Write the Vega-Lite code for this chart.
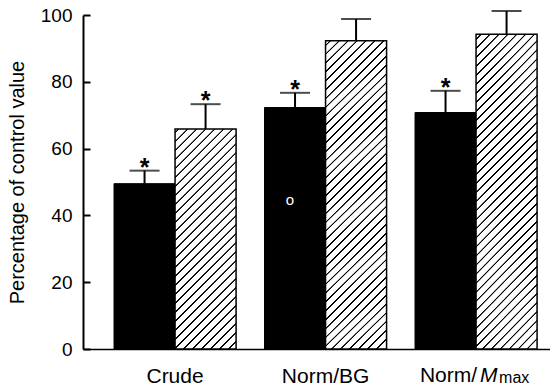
{
  "$schema": "https://vega.github.io/schema/vega-lite/v6.json",
  "width": 467,
  "height": 334,
  "autosize": {"type": "none"},
  "padding": {"left": 83, "top": 15, "right": 0, "bottom": 36},
  "config": {
    "view": {"stroke": null},
    "font": "Liberation Sans",
    "axis": {"grid": false, "domainColor": "black", "tickColor": "black", "labelColor": "black", "titleColor": "black"},
    "axisY": {"labelFontSize": 19, "labelPadding": 18, "tickSize": -7, "tickWidth": 2, "domainWidth": 2, "titleFontSize": 20, "titleFontWeight": "normal"}
  },
  "data": {
    "values": [
      {"group": "Crude", "kind": "black", "value": 49.5, "upper": 53.4, "star": true, "note": ""},
      {"group": "Crude", "kind": "hatched", "value": 65.9, "upper": 73.3, "star": true, "note": ""},
      {"group": "Norm/BG", "kind": "black", "value": 72.3, "upper": 76.7, "star": true, "note": "o"},
      {"group": "Norm/BG", "kind": "hatched", "value": 92.3, "upper": 98.8, "star": false, "note": ""},
      {"group": "Norm/Mmax", "kind": "black", "value": 70.8, "upper": 77.3, "star": true, "note": ""},
      {"group": "Norm/Mmax", "kind": "hatched", "value": 94.2, "upper": 101.2, "star": false, "note": ""}
    ]
  },
  "encoding": {
    "x": {
      "field": "group", "type": "nominal", "sort": ["Crude", "Norm/BG", "Norm/Mmax"],
      "scale": {"paddingInner": 0.189, "paddingOuter": 0.146, "align": 0.706},
      "axis": {
        "title": null, "ticks": false, "labelAngle": 0, "labelFontSize": 21, "labelPadding": 33,
        "labelBaseline": "alphabetic", "domainWidth": 1.5,
        "labelExpr": "datum.value == 'Norm/Mmax' ? '' : datum.value"
      }
    }
  },
  "layer": [
    {
      "mark": {"type": "rule", "color": "black", "strokeWidth": 2},
      "encoding": {
        "xOffset": {"field": "kind", "type": "nominal", "sort": ["black", "hatched"], "scale": {"paddingInner": 0, "paddingOuter": 0}},
        "y": {
          "field": "value", "type": "quantitative",
          "scale": {"domain": [0, 100], "nice": false},
          "axis": {
            "title": "Percentage of control value",
            "titleX": -56, "titleY": 167,
            "values": [0, 10, 20, 30, 40, 50, 60, 70, 80, 90, 100],
            "labelExpr": "datum.value % 20 == 0 ? datum.label : ''",
            "labelFontSize": 19, "labelPadding": 18, "tickSize": -7, "tickWidth": 2, "domainWidth": 2
          }
        },
        "y2": {"field": "upper"}
      }
    },
    {
      "mark": {"type": "tick", "orient": "horizontal", "size": 30, "thickness": 2, "color": "black"},
      "encoding": {
        "xOffset": {"field": "kind", "type": "nominal", "sort": ["black", "hatched"], "scale": {"paddingInner": 0, "paddingOuter": 0}},
        "y": {"field": "upper", "type": "quantitative"}
      }
    },
    {
      "transform": [{"filter": "datum.kind == 'black'"}],
      "mark": {"type": "bar", "fill": "black", "stroke": "black", "strokeWidth": 1},
      "encoding": {
        "xOffset": {"field": "kind", "type": "nominal", "sort": ["black", "hatched"], "scale": {"paddingInner": 0, "paddingOuter": 0}},
        "y": {"field": "value", "type": "quantitative"}
      }
    },
    {
      "transform": [{"filter": "datum.kind == 'hatched' && datum.group == 'Crude'"}],
      "mark": {
        "type": "bar", "stroke": "black", "strokeWidth": 1.5,
        "fill": {
          "gradient": "linear", "x1": 0, "y1": 0, "x2": 0.3282, "y2": 1.1859,
          "stops": [
            {"offset": 0.01, "color": "#fff"}, {"offset": 0.0114, "color": "#000"}, {"offset": 0.0164, "color": "#000"}, {"offset": 0.0178, "color": "#fff"},
            {"offset": 0.042, "color": "#fff"}, {"offset": 0.0434, "color": "#000"}, {"offset": 0.0484, "color": "#000"}, {"offset": 0.0498, "color": "#fff"},
            {"offset": 0.074, "color": "#fff"}, {"offset": 0.0754, "color": "#000"}, {"offset": 0.0804, "color": "#000"}, {"offset": 0.0818, "color": "#fff"},
            {"offset": 0.106, "color": "#fff"}, {"offset": 0.1074, "color": "#000"}, {"offset": 0.1124, "color": "#000"}, {"offset": 0.1138, "color": "#fff"},
            {"offset": 0.138, "color": "#fff"}, {"offset": 0.1394, "color": "#000"}, {"offset": 0.1444, "color": "#000"}, {"offset": 0.1458, "color": "#fff"},
            {"offset": 0.17, "color": "#fff"}, {"offset": 0.1714, "color": "#000"}, {"offset": 0.1764, "color": "#000"}, {"offset": 0.1778, "color": "#fff"},
            {"offset": 0.202, "color": "#fff"}, {"offset": 0.2034, "color": "#000"}, {"offset": 0.2084, "color": "#000"}, {"offset": 0.2098, "color": "#fff"},
            {"offset": 0.234, "color": "#fff"}, {"offset": 0.2354, "color": "#000"}, {"offset": 0.2404, "color": "#000"}, {"offset": 0.2418, "color": "#fff"},
            {"offset": 0.266, "color": "#fff"}, {"offset": 0.2674, "color": "#000"}, {"offset": 0.2724, "color": "#000"}, {"offset": 0.2738, "color": "#fff"},
            {"offset": 0.298, "color": "#fff"}, {"offset": 0.2994, "color": "#000"}, {"offset": 0.3044, "color": "#000"}, {"offset": 0.3058, "color": "#fff"},
            {"offset": 0.33, "color": "#fff"}, {"offset": 0.3314, "color": "#000"}, {"offset": 0.3364, "color": "#000"}, {"offset": 0.3378, "color": "#fff"},
            {"offset": 0.362, "color": "#fff"}, {"offset": 0.3634, "color": "#000"}, {"offset": 0.3684, "color": "#000"}, {"offset": 0.3698, "color": "#fff"},
            {"offset": 0.394, "color": "#fff"}, {"offset": 0.3954, "color": "#000"}, {"offset": 0.4004, "color": "#000"}, {"offset": 0.4018, "color": "#fff"},
            {"offset": 0.426, "color": "#fff"}, {"offset": 0.4274, "color": "#000"}, {"offset": 0.4324, "color": "#000"}, {"offset": 0.4338, "color": "#fff"},
            {"offset": 0.458, "color": "#fff"}, {"offset": 0.4594, "color": "#000"}, {"offset": 0.4644, "color": "#000"}, {"offset": 0.4658, "color": "#fff"},
            {"offset": 0.49, "color": "#fff"}, {"offset": 0.4914, "color": "#000"}, {"offset": 0.4964, "color": "#000"}, {"offset": 0.4978, "color": "#fff"},
            {"offset": 0.522, "color": "#fff"}, {"offset": 0.5234, "color": "#000"}, {"offset": 0.5284, "color": "#000"}, {"offset": 0.5298, "color": "#fff"},
            {"offset": 0.554, "color": "#fff"}, {"offset": 0.5554, "color": "#000"}, {"offset": 0.5604, "color": "#000"}, {"offset": 0.5618, "color": "#fff"},
            {"offset": 0.586, "color": "#fff"}, {"offset": 0.5874, "color": "#000"}, {"offset": 0.5924, "color": "#000"}, {"offset": 0.5938, "color": "#fff"},
            {"offset": 0.618, "color": "#fff"}, {"offset": 0.6194, "color": "#000"}, {"offset": 0.6244, "color": "#000"}, {"offset": 0.6258, "color": "#fff"},
            {"offset": 0.65, "color": "#fff"}, {"offset": 0.6514, "color": "#000"}, {"offset": 0.6564, "color": "#000"}, {"offset": 0.6578, "color": "#fff"},
            {"offset": 0.682, "color": "#fff"}, {"offset": 0.6834, "color": "#000"}, {"offset": 0.6884, "color": "#000"}, {"offset": 0.6898, "color": "#fff"},
            {"offset": 0.714, "color": "#fff"}, {"offset": 0.7154, "color": "#000"}, {"offset": 0.7204, "color": "#000"}, {"offset": 0.7218, "color": "#fff"},
            {"offset": 0.746, "color": "#fff"}, {"offset": 0.7474, "color": "#000"}, {"offset": 0.7524, "color": "#000"}, {"offset": 0.7538, "color": "#fff"},
            {"offset": 0.778, "color": "#fff"}, {"offset": 0.7794, "color": "#000"}, {"offset": 0.7844, "color": "#000"}, {"offset": 0.7858, "color": "#fff"},
            {"offset": 0.81, "color": "#fff"}, {"offset": 0.8114, "color": "#000"}, {"offset": 0.8164, "color": "#000"}, {"offset": 0.8178, "color": "#fff"},
            {"offset": 0.842, "color": "#fff"}, {"offset": 0.8434, "color": "#000"}, {"offset": 0.8484, "color": "#000"}, {"offset": 0.8498, "color": "#fff"},
            {"offset": 0.874, "color": "#fff"}, {"offset": 0.8754, "color": "#000"}, {"offset": 0.8804, "color": "#000"}, {"offset": 0.8818, "color": "#fff"},
            {"offset": 0.906, "color": "#fff"}, {"offset": 0.9074, "color": "#000"}, {"offset": 0.9124, "color": "#000"}, {"offset": 0.9138, "color": "#fff"},
            {"offset": 0.938, "color": "#fff"}, {"offset": 0.9394, "color": "#000"}, {"offset": 0.9444, "color": "#000"}, {"offset": 0.9458, "color": "#fff"},
            {"offset": 0.97, "color": "#fff"}, {"offset": 0.9714, "color": "#000"}, {"offset": 0.9764, "color": "#000"}, {"offset": 0.9778, "color": "#fff"}
          ]
        }
      },
      "encoding": {
        "xOffset": {"field": "kind", "type": "nominal", "sort": ["black", "hatched"], "scale": {"paddingInner": 0, "paddingOuter": 0}},
        "y": {"field": "value", "type": "quantitative"}
      }
    },
    {
      "transform": [{"filter": "datum.kind == 'hatched' && datum.group != 'Crude'"}],
      "mark": {
        "type": "bar", "stroke": "black", "strokeWidth": 1.5,
        "fill": {
          "gradient": "linear", "x1": 0, "y1": 0, "x2": 0.2255, "y2": 1.1517,
          "stops": [
            {"offset": 0.01, "color": "#fff"}, {"offset": 0.0111, "color": "#000"}, {"offset": 0.0148, "color": "#000"}, {"offset": 0.0159, "color": "#fff"},
            {"offset": 0.034, "color": "#fff"}, {"offset": 0.0351, "color": "#000"}, {"offset": 0.0388, "color": "#000"}, {"offset": 0.0399, "color": "#fff"},
            {"offset": 0.058, "color": "#fff"}, {"offset": 0.0591, "color": "#000"}, {"offset": 0.0628, "color": "#000"}, {"offset": 0.0639, "color": "#fff"},
            {"offset": 0.082, "color": "#fff"}, {"offset": 0.0831, "color": "#000"}, {"offset": 0.0868, "color": "#000"}, {"offset": 0.0879, "color": "#fff"},
            {"offset": 0.106, "color": "#fff"}, {"offset": 0.1071, "color": "#000"}, {"offset": 0.1108, "color": "#000"}, {"offset": 0.1119, "color": "#fff"},
            {"offset": 0.13, "color": "#fff"}, {"offset": 0.1311, "color": "#000"}, {"offset": 0.1348, "color": "#000"}, {"offset": 0.1359, "color": "#fff"},
            {"offset": 0.154, "color": "#fff"}, {"offset": 0.1551, "color": "#000"}, {"offset": 0.1588, "color": "#000"}, {"offset": 0.1599, "color": "#fff"},
            {"offset": 0.178, "color": "#fff"}, {"offset": 0.1791, "color": "#000"}, {"offset": 0.1828, "color": "#000"}, {"offset": 0.1839, "color": "#fff"},
            {"offset": 0.202, "color": "#fff"}, {"offset": 0.2031, "color": "#000"}, {"offset": 0.2068, "color": "#000"}, {"offset": 0.2079, "color": "#fff"},
            {"offset": 0.226, "color": "#fff"}, {"offset": 0.2271, "color": "#000"}, {"offset": 0.2308, "color": "#000"}, {"offset": 0.2319, "color": "#fff"},
            {"offset": 0.25, "color": "#fff"}, {"offset": 0.2511, "color": "#000"}, {"offset": 0.2548, "color": "#000"}, {"offset": 0.2559, "color": "#fff"},
            {"offset": 0.274, "color": "#fff"}, {"offset": 0.2751, "color": "#000"}, {"offset": 0.2788, "color": "#000"}, {"offset": 0.2799, "color": "#fff"},
            {"offset": 0.298, "color": "#fff"}, {"offset": 0.2991, "color": "#000"}, {"offset": 0.3028, "color": "#000"}, {"offset": 0.3039, "color": "#fff"},
            {"offset": 0.322, "color": "#fff"}, {"offset": 0.3231, "color": "#000"}, {"offset": 0.3268, "color": "#000"}, {"offset": 0.3279, "color": "#fff"},
            {"offset": 0.346, "color": "#fff"}, {"offset": 0.3471, "color": "#000"}, {"offset": 0.3508, "color": "#000"}, {"offset": 0.3519, "color": "#fff"},
            {"offset": 0.37, "color": "#fff"}, {"offset": 0.3711, "color": "#000"}, {"offset": 0.3748, "color": "#000"}, {"offset": 0.3759, "color": "#fff"},
            {"offset": 0.394, "color": "#fff"}, {"offset": 0.3951, "color": "#000"}, {"offset": 0.3988, "color": "#000"}, {"offset": 0.3999, "color": "#fff"},
            {"offset": 0.418, "color": "#fff"}, {"offset": 0.4191, "color": "#000"}, {"offset": 0.4228, "color": "#000"}, {"offset": 0.4239, "color": "#fff"},
            {"offset": 0.442, "color": "#fff"}, {"offset": 0.4431, "color": "#000"}, {"offset": 0.4468, "color": "#000"}, {"offset": 0.4479, "color": "#fff"},
            {"offset": 0.466, "color": "#fff"}, {"offset": 0.4671, "color": "#000"}, {"offset": 0.4708, "color": "#000"}, {"offset": 0.4719, "color": "#fff"},
            {"offset": 0.49, "color": "#fff"}, {"offset": 0.4911, "color": "#000"}, {"offset": 0.4948, "color": "#000"}, {"offset": 0.4959, "color": "#fff"},
            {"offset": 0.514, "color": "#fff"}, {"offset": 0.5151, "color": "#000"}, {"offset": 0.5188, "color": "#000"}, {"offset": 0.5199, "color": "#fff"},
            {"offset": 0.538, "color": "#fff"}, {"offset": 0.5391, "color": "#000"}, {"offset": 0.5428, "color": "#000"}, {"offset": 0.5439, "color": "#fff"},
            {"offset": 0.562, "color": "#fff"}, {"offset": 0.5631, "color": "#000"}, {"offset": 0.5668, "color": "#000"}, {"offset": 0.5679, "color": "#fff"},
            {"offset": 0.586, "color": "#fff"}, {"offset": 0.5871, "color": "#000"}, {"offset": 0.5908, "color": "#000"}, {"offset": 0.5919, "color": "#fff"},
            {"offset": 0.61, "color": "#fff"}, {"offset": 0.6111, "color": "#000"}, {"offset": 0.6148, "color": "#000"}, {"offset": 0.6159, "color": "#fff"},
            {"offset": 0.634, "color": "#fff"}, {"offset": 0.6351, "color": "#000"}, {"offset": 0.6388, "color": "#000"}, {"offset": 0.6399, "color": "#fff"},
            {"offset": 0.658, "color": "#fff"}, {"offset": 0.6591, "color": "#000"}, {"offset": 0.6628, "color": "#000"}, {"offset": 0.6639, "color": "#fff"},
            {"offset": 0.682, "color": "#fff"}, {"offset": 0.6831, "color": "#000"}, {"offset": 0.6868, "color": "#000"}, {"offset": 0.6879, "color": "#fff"},
            {"offset": 0.706, "color": "#fff"}, {"offset": 0.7071, "color": "#000"}, {"offset": 0.7108, "color": "#000"}, {"offset": 0.7119, "color": "#fff"},
            {"offset": 0.73, "color": "#fff"}, {"offset": 0.7311, "color": "#000"}, {"offset": 0.7348, "color": "#000"}, {"offset": 0.7359, "color": "#fff"},
            {"offset": 0.754, "color": "#fff"}, {"offset": 0.7551, "color": "#000"}, {"offset": 0.7588, "color": "#000"}, {"offset": 0.7599, "color": "#fff"},
            {"offset": 0.778, "color": "#fff"}, {"offset": 0.7791, "color": "#000"}, {"offset": 0.7828, "color": "#000"}, {"offset": 0.7839, "color": "#fff"},
            {"offset": 0.802, "color": "#fff"}, {"offset": 0.8031, "color": "#000"}, {"offset": 0.8068, "color": "#000"}, {"offset": 0.8079, "color": "#fff"},
            {"offset": 0.826, "color": "#fff"}, {"offset": 0.8271, "color": "#000"}, {"offset": 0.8308, "color": "#000"}, {"offset": 0.8319, "color": "#fff"},
            {"offset": 0.85, "color": "#fff"}, {"offset": 0.8511, "color": "#000"}, {"offset": 0.8548, "color": "#000"}, {"offset": 0.8559, "color": "#fff"},
            {"offset": 0.874, "color": "#fff"}, {"offset": 0.8751, "color": "#000"}, {"offset": 0.8788, "color": "#000"}, {"offset": 0.8799, "color": "#fff"},
            {"offset": 0.898, "color": "#fff"}, {"offset": 0.8991, "color": "#000"}, {"offset": 0.9028, "color": "#000"}, {"offset": 0.9039, "color": "#fff"},
            {"offset": 0.922, "color": "#fff"}, {"offset": 0.9231, "color": "#000"}, {"offset": 0.9268, "color": "#000"}, {"offset": 0.9279, "color": "#fff"},
            {"offset": 0.946, "color": "#fff"}, {"offset": 0.9471, "color": "#000"}, {"offset": 0.9508, "color": "#000"}, {"offset": 0.9519, "color": "#fff"},
            {"offset": 0.97, "color": "#fff"}, {"offset": 0.9711, "color": "#000"}, {"offset": 0.9748, "color": "#000"}, {"offset": 0.9759, "color": "#fff"}
          ]
        }
      },
      "encoding": {
        "xOffset": {"field": "kind", "type": "nominal", "sort": ["black", "hatched"], "scale": {"paddingInner": 0, "paddingOuter": 0}},
        "y": {"field": "value", "type": "quantitative"}
      }
    },
    {
      "transform": [{"filter": "datum.star"}],
      "mark": {"type": "text", "text": "*", "fontSize": 25, "fontWeight": "bold", "baseline": "alphabetic", "align": "center", "color": "black", "dy": 5},
      "encoding": {
        "xOffset": {"field": "kind", "type": "nominal", "sort": ["black", "hatched"], "scale": {"paddingInner": 0, "paddingOuter": 0}},
        "y": {"field": "upper", "type": "quantitative"}
      }
    },
    {
      "transform": [{"filter": "datum.note != ''"}],
      "mark": {"type": "text", "fontSize": 15, "baseline": "middle", "align": "center", "color": "white", "dx": -5},
      "encoding": {
        "xOffset": {"field": "kind", "type": "nominal", "sort": ["black", "hatched"], "scale": {"paddingInner": 0, "paddingOuter": 0}},
        "y": {"datum": 44.5, "type": "quantitative"},
        "text": {"field": "note"}
      }
    },
    {
      "transform": [{"filter": "datum.group == 'Norm/Mmax' && datum.kind == 'black'"}],
      "mark": {"type": "text", "text": "Norm/", "fontSize": 21, "baseline": "alphabetic", "align": "right", "color": "black", "dx": 1, "dy": 33},
      "encoding": {"y": {"datum": 0, "type": "quantitative"}}
    },
    {
      "transform": [{"filter": "datum.group == 'Norm/Mmax' && datum.kind == 'black'"}],
      "mark": {"type": "text", "text": "M", "fontSize": 21, "fontStyle": "italic", "baseline": "alphabetic", "align": "left", "color": "black", "dx": 4, "dy": 33},
      "encoding": {"y": {"datum": 0, "type": "quantitative"}}
    },
    {
      "transform": [{"filter": "datum.group == 'Norm/Mmax' && datum.kind == 'black'"}],
      "mark": {"type": "text", "text": "max", "fontSize": 16, "baseline": "alphabetic", "align": "left", "color": "black", "dx": 23, "dy": 34},
      "encoding": {"y": {"datum": 0, "type": "quantitative"}}
    }
  ]
}
